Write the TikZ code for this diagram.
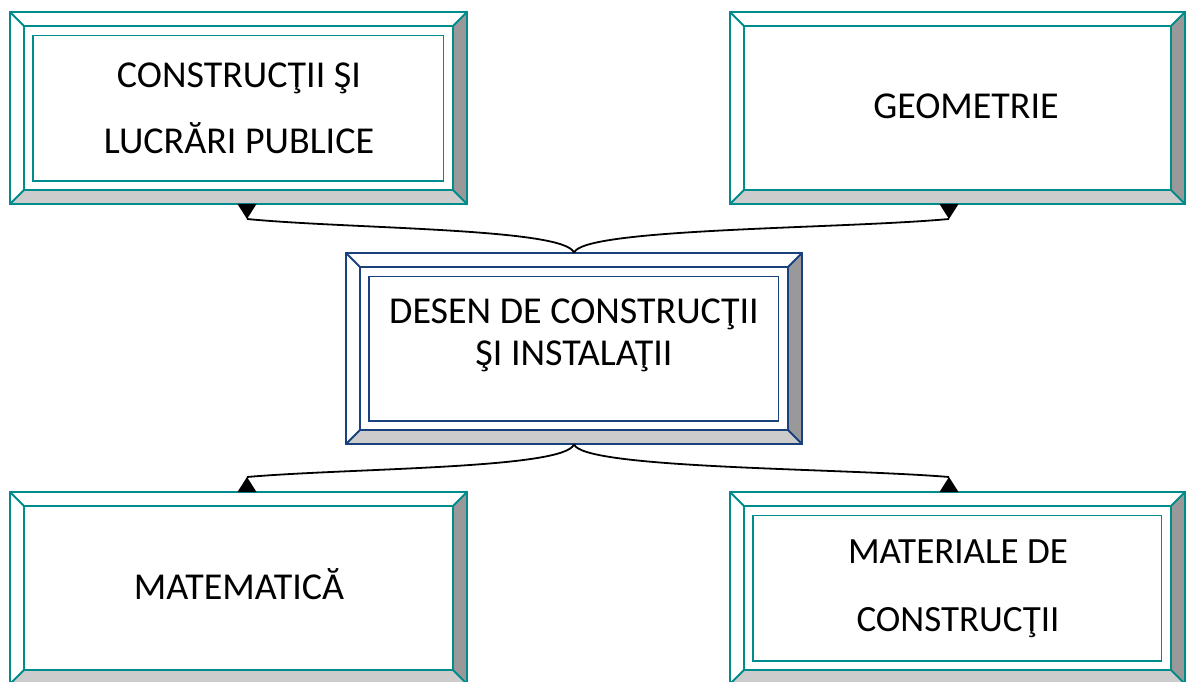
\documentclass[tikz,border=0pt]{standalone}
\usepackage{fontspec}
\setmainfont{Carlito}
\usetikzlibrary{arrows.meta,fit}
\definecolor{tealc}{RGB}{0,140,140}
\definecolor{navyc}{RGB}{25,65,125}
\definecolor{bevlight}{RGB}{204,204,204}
\definecolor{bevdark}{RGB}{153,153,153}
\tikzset{
  outl/.style={line width=1.8pt, line join=miter},
  frm/.style={line width=1.8pt},
  lbl/.style={font=\fontsize{38}{66}\selectfont, align=center, text=black, inner sep=0pt},
  conn/.style={line width=1.8pt, black},
  tiphead/.style={fill=black},
}
\newcommand\bevbox[6]{%
  \node[fit={(#2,#3)(#4,#5)}, inner sep=0pt, fill=white] (#1) {};
  \fill[bevlight] (#2,#5) -- (#4,#5) -- (#4-14,#5-14) -- (#2+14,#5-14) -- cycle;
  \fill[bevdark] (#4,#3) -- (#4,#5) -- (#4-14,#5-14) -- (#4-14,#3+14) -- cycle;
  \draw[#6, outl] (#2,#3) rectangle (#4,#5);
  \draw[#6, outl] (#2+14,#3+14) rectangle (#4-14,#5-14);
  \draw[#6, outl] (#2,#3) -- (#2+14,#3+14) (#4,#3) -- (#4-14,#3+14)
                  (#2,#5) -- (#2+14,#5-14) (#4,#5) -- (#4-14,#5-14);
}
\newcommand\bevframe[5]{%
  \draw[#5, frm] (#1+23,#2+23.5) rectangle (#3-23.5,#4-23);
}
% triangle head: x, base y, apex y
\newcommand\headtri[3]{%
  \fill[tiphead] (#1-9.5,#2) -- (#1,#3) -- (#1+9.5,#2) -- cycle;
}
\begin{document}
\begin{tikzpicture}[x=1pt,y=-1pt]
\useasboundingbox (0,0) rectangle (1187,682);
% boxes
\bevbox{b1}{10}{12}{467}{204}{tealc}
\bevframe{10}{12}{467}{204}{tealc}
\bevbox{b2}{730}{12}{1185}{204}{tealc}
\bevbox{b3}{346}{253}{802}{444}{navyc}
\bevframe{346}{253}{802}{444}{navyc}
\bevbox{b4}{10}{492}{467}{684}{tealc}
\bevbox{b5}{730}{492}{1185}{684}{tealc}
\bevframe{730}{492}{1185}{684}{tealc}
% labels
\node[lbl] (b1t) at (239,108) {CONSTRUCŢII ŞI\\LUCRĂRI PUBLICE};
\node[lbl] (b2t) at (966,106) {GEOMETRIE};
\node[lbl, font=\fontsize{38}{42}\selectfont] (b3t) at (574,335) {DESEN DE CONSTRUCŢII\\ŞI INSTALAŢII};
\node[lbl] (b4t) at (239,584) {MATEMATICĂ};
\node[lbl, font=\fontsize{37}{68}\selectfont] (b5t) at (958,589) {MATERIALE DE\\CONSTRUCŢII};
% connector end points
\coordinate (a1p) at (247,219);
\coordinate (a2p) at (949,219);
\coordinate (a3p) at (247,477);
\coordinate (a4p) at (949,477);
% connectors
\draw[conn] (b3.north) .. controls (566,228) and (350,229) .. (a1p);
\draw[conn] (b3.north) .. controls (582,228) and (840,229) .. (a2p);
\draw[conn] (b3.south) .. controls (566,469) and (350,468) .. (a3p);
\draw[conn] (b3.south) .. controls (582,469) and (840,468) .. (a4p);
\headtri{247}{204}{219}
\headtri{949}{204}{219}
\headtri{247}{492}{477}
\headtri{949}{492}{477}
\end{tikzpicture}
\end{document}
